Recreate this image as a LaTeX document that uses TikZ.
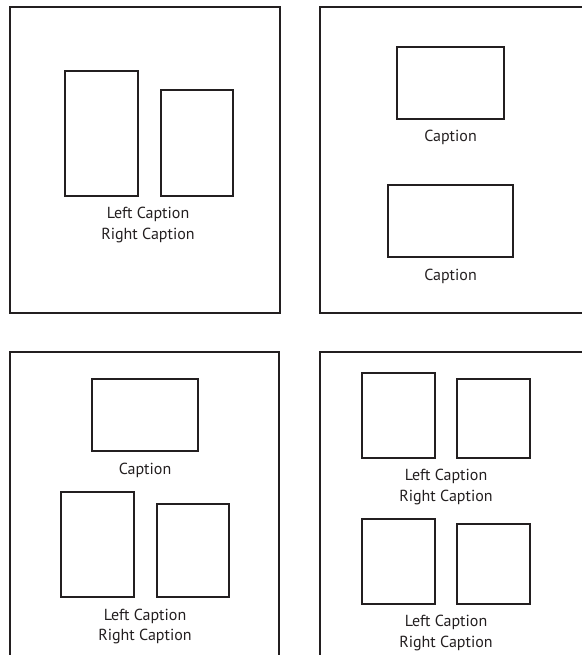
\documentclass[tikz,border=0pt]{standalone}
\usepackage{fontspec}
\setmainfont{PT Sans}
\definecolor{ink}{HTML}{231F20}
\begin{document}
\begin{tikzpicture}[x=1pt,y=-1pt,
  panel/.style={draw=ink,line width=1.3pt},
  pic/.style={draw=ink,line width=2pt,inner sep=0pt,outer sep=0pt,anchor=north west},
  captext/.style={text=ink,font=\fontsize{16}{19}\selectfont,anchor=base,inner sep=0pt}]
\useasboundingbox (0,0) rectangle (581,655);
% panels
\draw[panel] (10,7) rectangle (280,313);
\draw[panel] (320,7) rectangle (590,313);
\draw[panel] (10,352) rectangle (279,665);
\draw[panel] (320,352) rectangle (590,665);
% panel 1
\node[pic,minimum width=73pt,minimum height=125pt] (p1a) at (65,71) {};
\node[pic,minimum width=72pt,minimum height=106pt] (p1b) at (161,90) {};
\node[captext] (p1l) at (148,218.5) {Left Caption};
\node[captext] (p1r) at (148,239.5) {Right Caption};
% panel 2
\node[pic,minimum width=107pt,minimum height=72pt] (p2a) at (397,47) {};
\node[captext] (p2c1) at (450.5,142) {Caption};
\node[pic,minimum width=125pt,minimum height=72pt] (p2b) at (388,185) {};
\node[captext] (p2c2) at (450.5,280) {Caption};
% panel 3
\node[pic,minimum width=106pt,minimum height=72pt] (p3a) at (92,379) {};
\node[captext] (p3c) at (145,474) {Caption};
\node[pic,minimum width=73pt,minimum height=105pt] (p3b) at (61,492) {};
\node[pic,minimum width=72pt,minimum height=93pt] (p3d) at (157,504) {};
\node[captext] (p3l) at (145,620) {Left Caption};
\node[captext] (p3r) at (145,640) {Right Caption};
% panel 4
\node[pic,minimum width=73pt,minimum height=85pt] (p4a) at (362,373) {};
\node[pic,minimum width=73pt,minimum height=79pt] (p4b) at (457,379) {};
\node[captext] (p4l1) at (446,480) {Left Caption};
\node[captext] (p4r1) at (446,501) {Right Caption};
\node[pic,minimum width=73pt,minimum height=85pt] (p4c) at (362,519) {};
\node[pic,minimum width=73pt,minimum height=80pt] (p4d) at (457,524) {};
\node[captext] (p4l2) at (446,626) {Left Caption};
\node[captext] (p4r2) at (446,647) {Right Caption};
\end{tikzpicture}
\end{document}
